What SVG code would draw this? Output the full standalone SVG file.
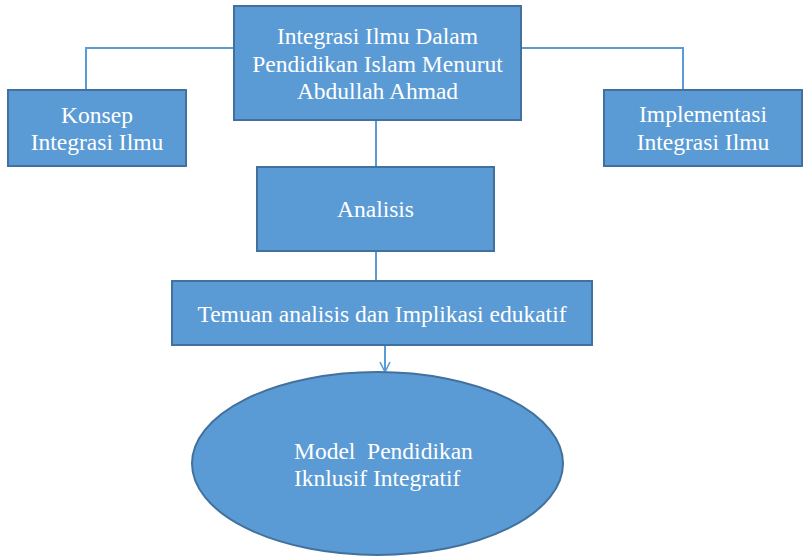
<svg xmlns="http://www.w3.org/2000/svg" width="803" height="556" viewBox="0 0 803 556">
<style>
.box{fill:#5B9BD5;stroke:#41719C;stroke-width:2}
.c{stroke:#5B9BD5;stroke-width:2;fill:none}
</style>
<defs>
<marker id="arr" viewBox="0 0 12 12" refX="11" refY="6" markerWidth="12" markerHeight="12" markerUnits="userSpaceOnUse" orient="auto">
<path d="M1,1 L11,6 L1,11" fill="none" stroke="#5B9BD5" stroke-width="1.6"/>
</marker>
</defs>
<rect width="803" height="556" fill="#FFFFFF"/>
<g id="connectors">
<polyline class="c" points="234,48 86,48 86,90"/>
<polyline class="c" points="521,48 683,48 683,90"/>
<line class="c" x1="376" y1="120" x2="376" y2="167"/>
<line class="c" x1="376" y1="251" x2="376" y2="281"/>
<line class="c" x1="385" y1="345" x2="385" y2="372" marker-end="url(#arr)"/>
</g>
<g font-family="Liberation Serif, Tinos, DejaVu Serif, serif" font-size="23.5" fill="#FFFFFF" text-anchor="middle">
<g id="node-top">
<rect class="box" x="234" y="6" width="287" height="114"/>
<text x="377.5" y="44">Integrasi Ilmu Dalam</text>
<text x="377.5" y="71.5">Pendidikan Islam Menurut</text>
<text x="377.5" y="99">Abdullah Ahmad</text>
</g>
<g id="node-konsep">
<rect class="box" x="8" y="90" width="178" height="76"/>
<text x="97" y="122.5">Konsep</text>
<text x="97" y="150">Integrasi Ilmu</text>
</g>
<g id="node-implementasi">
<rect class="box" x="604" y="90" width="198" height="76"/>
<text x="703" y="122">Implementasi</text>
<text x="703" y="150">Integrasi Ilmu</text>
</g>
<g id="node-analisis">
<rect class="box" x="257" y="167" width="237" height="84"/>
<text x="375.5" y="217">Analisis</text>
</g>
<g id="node-temuan">
<rect class="box" x="172" y="281" width="420" height="64"/>
<text x="382" y="322">Temuan analisis dan Implikasi edukatif</text>
</g>
<g id="node-model">
<ellipse class="box" cx="377.5" cy="463.5" rx="185.5" ry="91.5"/>
<text x="294" y="459" text-anchor="start" xml:space="preserve">Model  Pendidikan</text>
<text x="294" y="486" text-anchor="start">Iknlusif Integratif</text>
</g>
</g>
</svg>
